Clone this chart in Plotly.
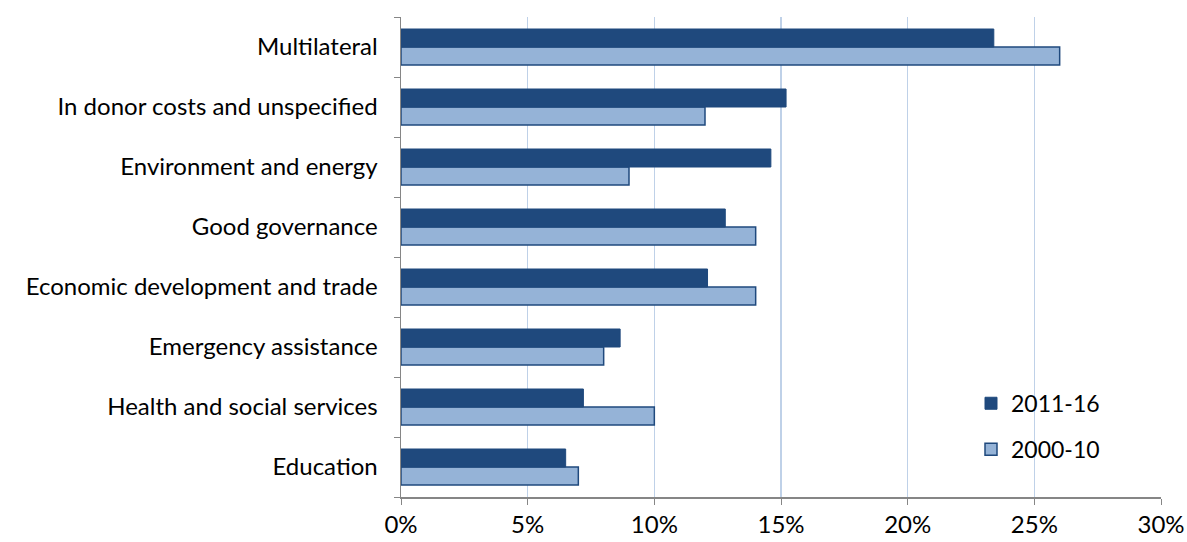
import plotly.graph_objects as go

categories = ["Education", "Health and social services", "Emergency assistance",
              "Economic development and trade", "Good governance",
              "Environment and energy", "In donor costs and unspecified", "Multilateral"]
s2011_16 = [6.5, 7.2, 8.65, 12.1, 12.8, 14.6, 15.2, 23.4]
s2000_10 = [7.0, 10.0, 8.0, 14.0, 14.0, 9.0, 12.0, 26.0]
x_ticks = [0, 5, 10, 15, 20, 25, 30]
x_labels = ["0%", "5%", "10%", "15%", "20%", "25%", "30%"]

fig = go.Figure()
fig.add_trace(go.Bar(y=categories, x=s2000_10, orientation="h", name="2000-10",
                     legendgroup="b", legendrank=2,
                     marker=dict(color="#95B3D7", line=dict(color="#1F497D", width=1.5))))
fig.add_trace(go.Bar(y=categories, x=s2011_16, orientation="h", name="2011-16",
                     legendgroup="a", legendrank=1,
                     marker=dict(color="#1F497D", line=dict(color="#1F497D", width=1))))

font_family = "Lato, Open Sans, sans-serif"
fig.update_layout(
    width=1187, height=542,
    margin=dict(l=401, r=26, t=17, b=45, autoexpand=False),
    plot_bgcolor="white", paper_bgcolor="white",
    barmode="group", bargap=0.4, bargroupgap=0.0,
    font=dict(family=font_family, size=24, color="#000000"),
    showlegend=True,
    legend=dict(x=0.75, y=0.24, xanchor="left", yanchor="top",
                traceorder="grouped", tracegroupgap=13,
                font=dict(size=23), bgcolor="rgba(0,0,0,0)"),
    xaxis=dict(range=[0, 30], tickvals=x_ticks, ticktext=x_labels,
               showgrid=True, gridcolor="#BFD1E8", gridwidth=1.5,
               showline=True, linecolor="#868686", linewidth=1.5,
               ticks="outside", ticklen=6, tickcolor="#868686",
               zeroline=False, fixedrange=True),
    yaxis=dict(categoryorder="array", categoryarray=categories,
               showline=True, linecolor="#868686", linewidth=1.5,
               ticks="outside", ticklen=6, tickcolor="#868686",
               tickson="boundaries", showgrid=False, ticklabelstandoff=17,
               fixedrange=True),
)
fig.write_html("out.html", config={"displayModeBar": False, "staticPlot": True},
               post_script="document.body.style.margin='0';document.body.style.overflow='hidden';")
